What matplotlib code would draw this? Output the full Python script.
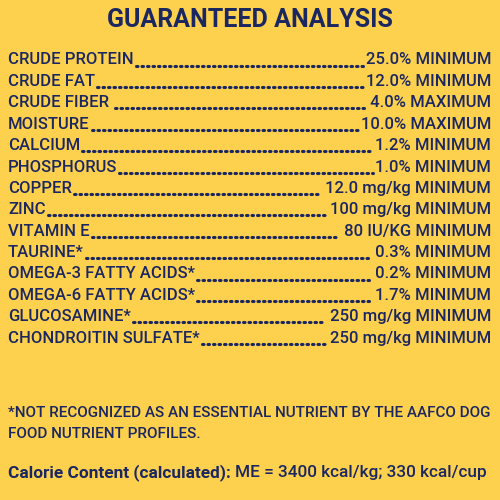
import matplotlib
matplotlib.use("Agg")
import matplotlib.pyplot as plt

# label contents
nutrients = ["CRUDE PROTEIN", "CRUDE FAT", "CRUDE FIBER ", "MOISTURE", "CALCIUM",
             "PHOSPHORUS", "COPPER", "ZINC", "VITAMIN E", "TAURINE*",
             "OMEGA-3 FATTY ACIDS*", "OMEGA-6 FATTY ACIDS*", "GLUCOSAMINE*",
             "CHONDROITIN SULFATE*"]
amounts = ["25.0% MINIMUM", "12.0% MINIMUM", " 4.0% MAXIMUM", "10.0% MAXIMUM",
           "1.2% MINIMUM", "1.0% MINIMUM", " 12.0 mg/kg MINIMUM", "100 mg/kg MINIMUM",
           " 80 IU/KG MINIMUM", " 0.3% MINIMUM", " 0.2% MINIMUM", "1.7% MINIMUM",
           " 250 mg/kg MINIMUM", "250 mg/kg MINIMUM"]
footnote = ["*NOT RECOGNIZED AS AN ESSENTIAL NUTRIENT BY THE AAFCO DOG",
            "FOOD NUTRIENT PROFILES."]

BG = "#fdd14e"
INK = "#1b2760"
FONT = dict(family="Roboto", fontweight="medium", color=INK)

fig = plt.figure(figsize=(5, 5), dpi=100, facecolor=BG)
ax = fig.add_axes([0, 0, 1, 1])
ax.set_xlim(0, 500)
ax.set_ylim(500, 0)
ax.axis("off")

fig.canvas.draw()
r = fig.canvas.get_renderer()
inv = ax.transData.inverted()


def xspan(t):
    bb = t.get_window_extent(r)
    return inv.transform((bb.x0, 0))[0], inv.transform((bb.x1, 0))[0]


def fit(t, width):
    x0, x1 = xspan(t)
    t.set_fontsize(t.get_fontsize() * width / (x1 - x0))


title = ax.text(250, 20, "GUARANTEED ANALYSIS", ha="center", va="center",
                fontsize=17, family="Roboto", fontweight="bold", color=INK)
fit(title, 285)

fn = [ax.text(8, 413 + j * 21.5, line, ha="left", va="center", fontsize=12, **FONT)
      for j, line in enumerate(footnote)]
fit(fn[0], 484)
fn[1].set_fontsize(fn[0].get_fontsize())

size = 12
y0, dy = 60, 21.4
for i, (n, a) in enumerate(zip(nutrients, amounts)):
    y = y0 + i * dy
    t1 = ax.text(8, y, n, ha="left", va="center", fontsize=size, **FONT)
    t2 = ax.text(491, y, a, ha="right", va="center", fontsize=size, **FONT)
    x1 = xspan(t1)[1]
    x2 = xspan(t2)[0]
    ax.plot([x1 + 2, x2 - 2], [y + 5.5, y + 5.5], color=INK, lw=2.2,
            linestyle=(0, (0.5, 1.3)), dash_capstyle="round")

t = ax.text(8, 473, "Calorie Content (calculated):", ha="left", va="center",
            fontsize=14, family="Roboto", fontweight="bold", color=INK)
xe = xspan(t)[1]
t3 = ax.text(xe + 4, 473, "ME = 3400 kcal/kg; 330 kcal/cup", ha="left", va="center",
             fontsize=14, **FONT)
over = xspan(t3)[1] - 491
if over > 0:
    k = (483 - 8) / (483 - 8 + over)
    t.set_fontsize(t.get_fontsize() * k)
    t3.set_fontsize(t3.get_fontsize() * k)
    t3.set_x(xspan(t)[1] + 4)

fig.savefig("out.png", dpi=100, facecolor=BG)
